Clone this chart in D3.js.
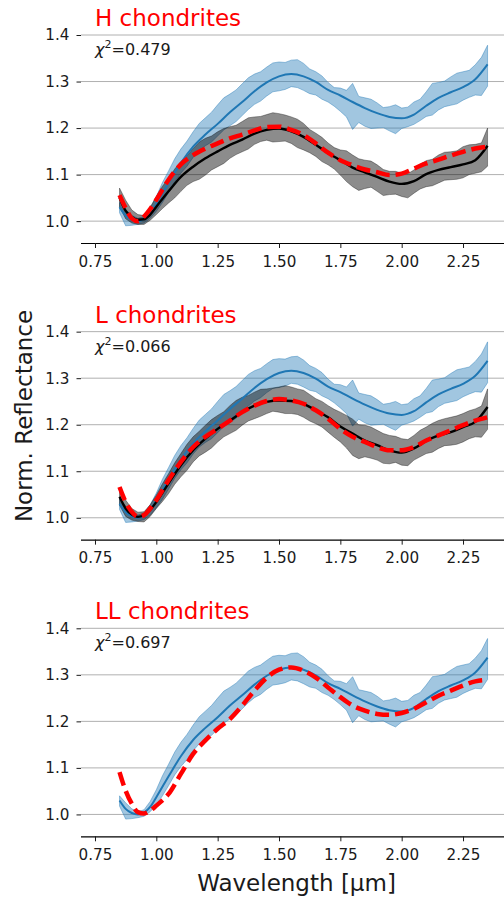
<!DOCTYPE html>
<html>
<head>
<meta charset="utf-8">
<script src="https://cdn.jsdelivr.net/npm/d3@7"></script>
<style>
  body { margin: 0; background: #fff; }
  svg { display: block; font-family: "DejaVu Sans", sans-serif; }
</style>
</head>
<body>
<svg id="chart" width="504" height="902"></svg>
<script>
// wavelength grid for the mean curves (µm)
const wavelength = [0.85, 0.875, 0.9, 0.925, 0.95, 0.975, 1.0, 1.05, 1.1, 1.15, 1.2, 1.25, 1.3, 1.35,
  1.4, 1.45, 1.5, 1.55, 1.6, 1.65, 1.7, 1.75, 1.8, 1.85, 1.9, 1.95, 2.0, 2.05, 2.1, 2.15, 2.2, 2.25, 2.3, 2.35];

// finer grid for the 1-sigma envelopes
const bandWl = [0.85, 0.875, 0.9, 0.925, 0.95, 0.975, 1.0,
  1.025, 1.05, 1.075, 1.1, 1.125, 1.15, 1.175, 1.2, 1.225, 1.25, 1.275, 1.3, 1.325, 1.35, 1.375, 1.4, 1.425, 1.45, 1.475, 1.5,
  1.525, 1.55, 1.575, 1.6, 1.625, 1.65, 1.675, 1.7, 1.725, 1.75, 1.775, 1.8, 1.825, 1.85, 1.875, 1.9, 1.925, 1.95, 1.975, 2.0,
  2.025, 2.05, 2.075, 2.1, 2.125, 2.15, 2.175, 2.2, 2.225, 2.25, 2.275, 2.3, 2.325, 2.35];

// asteroid spectrum
const astMean = [1.030, 1.012, 1.003, 1.000, 1.004, 1.016, 1.037, 1.082, 1.125, 1.160, 1.186, 1.209, 1.234, 1.256,
  1.279, 1.298, 1.311, 1.316, 1.311, 1.299, 1.282, 1.270, 1.256, 1.243, 1.232, 1.224, 1.221, 1.229, 1.248, 1.265, 1.277, 1.288, 1.305, 1.337];
const astHigh = [1.040, 1.025, 1.012, 1.006, 1.010, 1.028, 1.053,
  1.083, 1.108, 1.134, 1.155, 1.172, 1.192, 1.210, 1.222, 1.234, 1.250, 1.265, 1.273, 1.282, 1.295, 1.308, 1.316, 1.321, 1.331, 1.340, 1.342,
  1.341, 1.346, 1.347, 1.339, 1.327, 1.321, 1.312, 1.298, 1.287, 1.286, 1.281, 1.296, 1.268, 1.265, 1.262, 1.254, 1.244, 1.246, 1.250, 1.243,
  1.245, 1.256, 1.262, 1.278, 1.296, 1.298, 1.301, 1.310, 1.318, 1.321, 1.324, 1.336, 1.352, 1.378];
const astLow = [1.018, 0.990, 0.991, 0.993, 0.996, 1.006, 1.021,
  1.040, 1.062, 1.085, 1.103, 1.118, 1.137, 1.152, 1.162, 1.170, 1.183, 1.196, 1.205, 1.214, 1.227, 1.240, 1.251, 1.258, 1.269, 1.278, 1.280,
  1.283, 1.289, 1.287, 1.281, 1.274, 1.271, 1.262, 1.256, 1.247, 1.236, 1.224, 1.197, 1.212, 1.204, 1.199, 1.200, 1.201, 1.194, 1.188, 1.199,
  1.203, 1.208, 1.216, 1.225, 1.228, 1.239, 1.246, 1.249, 1.252, 1.260, 1.266, 1.271, 1.270, 1.290];

// H chondrites
const hMean = [1.050, 1.022, 1.009, 1.003, 1.004, 1.014, 1.031, 1.064, 1.095, 1.117, 1.135, 1.150, 1.164, 1.175,
  1.188, 1.196, 1.199, 1.193, 1.181, 1.164, 1.146, 1.131, 1.115, 1.105, 1.095, 1.085, 1.080, 1.086, 1.101, 1.110, 1.116, 1.122, 1.131, 1.162];
const hHigh = [1.071, 1.045, 1.024, 1.014, 1.012, 1.030, 1.053,
  1.075, 1.092, 1.112, 1.128, 1.140, 1.156, 1.170, 1.178, 1.183, 1.192, 1.199, 1.203, 1.206, 1.214, 1.222, 1.224, 1.225, 1.229, 1.233, 1.231,
  1.228, 1.224, 1.219, 1.210, 1.197, 1.189, 1.180, 1.168, 1.158, 1.153, 1.151, 1.142, 1.134, 1.131, 1.129, 1.121, 1.111, 1.107, 1.107, 1.103,
  1.102, 1.110, 1.122, 1.130, 1.133, 1.142, 1.148, 1.149, 1.151, 1.160, 1.164, 1.165, 1.168, 1.200];
const hLow = [1.031, 1.005, 0.996, 0.993, 0.993, 1.002, 1.014,
  1.027, 1.039, 1.050, 1.064, 1.077, 1.085, 1.090, 1.099, 1.110, 1.117, 1.124, 1.135, 1.143, 1.149, 1.155, 1.165, 1.171, 1.174, 1.170, 1.171,
  1.172, 1.167, 1.158, 1.153, 1.147, 1.139, 1.128, 1.121, 1.112, 1.099, 1.085, 1.074, 1.066, 1.070, 1.073, 1.064, 1.055, 1.057, 1.058, 1.053,
  1.050, 1.060, 1.069, 1.074, 1.076, 1.082, 1.088, 1.089, 1.090, 1.093, 1.100, 1.103, 1.106, 1.118];
const hFit = [1.056, 1.028, 1.006, 1.000, 1.010, 1.026, 1.046, 1.089, 1.122, 1.142, 1.156, 1.167, 1.178, 1.186,
  1.195, 1.202, 1.203, 1.196, 1.185, 1.167, 1.147, 1.131, 1.120, 1.111, 1.105, 1.099, 1.102, 1.113, 1.124, 1.132, 1.141, 1.149, 1.156, 1.160];

// L chondrites
const lMean = [1.045, 1.020, 1.007, 1.002, 1.006, 1.017, 1.034, 1.074, 1.113, 1.145, 1.170, 1.191, 1.209, 1.227,
  1.241, 1.249, 1.252, 1.251, 1.245, 1.231, 1.216, 1.196, 1.181, 1.166, 1.156, 1.145, 1.140, 1.149, 1.165, 1.177, 1.184, 1.195, 1.206, 1.238];
const lHigh = [1.063, 1.038, 1.020, 1.012, 1.013, 1.028, 1.049,
  1.073, 1.095, 1.118, 1.138, 1.158, 1.174, 1.186, 1.199, 1.211, 1.220, 1.228, 1.241, 1.252, 1.259, 1.263, 1.270, 1.276, 1.277, 1.279, 1.281,
  1.284, 1.281, 1.277, 1.274, 1.265, 1.256, 1.250, 1.241, 1.233, 1.227, 1.220, 1.212, 1.200, 1.199, 1.195, 1.188, 1.181, 1.177, 1.175, 1.170,
  1.168, 1.177, 1.188, 1.195, 1.203, 1.209, 1.213, 1.216, 1.219, 1.224, 1.230, 1.234, 1.240, 1.277];
const lLow = [1.027, 1.003, 0.995, 0.992, 0.991, 1.003, 1.020,
  1.035, 1.052, 1.072, 1.088, 1.102, 1.120, 1.133, 1.141, 1.150, 1.163, 1.174, 1.181, 1.188, 1.199, 1.208, 1.213, 1.218, 1.224, 1.229, 1.227,
  1.224, 1.224, 1.222, 1.216, 1.208, 1.202, 1.195, 1.184, 1.173, 1.163, 1.150, 1.134, 1.127, 1.131, 1.128, 1.124, 1.117, 1.116, 1.119, 1.113,
  1.112, 1.124, 1.131, 1.138, 1.141, 1.149, 1.155, 1.156, 1.158, 1.163, 1.170, 1.174, 1.173, 1.190];
const lFit = [1.066, 1.034, 1.013, 1.002, 1.006, 1.020, 1.038, 1.081, 1.120, 1.152, 1.174, 1.191, 1.209, 1.227,
  1.241, 1.251, 1.255, 1.252, 1.245, 1.231, 1.213, 1.191, 1.174, 1.163, 1.152, 1.145, 1.145, 1.152, 1.166, 1.177, 1.188, 1.199, 1.209, 1.216];

// LL chondrites (fit only)
const llFit = [1.091, 1.051, 1.023, 1.005, 1.002, 1.008, 1.019, 1.044, 1.087, 1.130, 1.159, 1.184, 1.205, 1.234,
  1.266, 1.294, 1.311, 1.316, 1.309, 1.294, 1.273, 1.252, 1.234, 1.223, 1.216, 1.214, 1.218, 1.227, 1.241, 1.255, 1.266, 1.277, 1.286, 1.289];

const titles = ['H chondrites', 'L chondrites', 'LL chondrites'];
const chi2 = ['0.479', '0.066', '0.697'];
const xTicks = [0.75, 1.0, 1.25, 1.5, 1.75, 2.0, 2.25];
const yTicks = [1.0, 1.1, 1.2, 1.3, 1.4];

const panels = [
  { title: titles[0], chi: chi2[0], mean: hMean, high: hHigh, low: hLow, fit: hFit },
  { title: titles[1], chi: chi2[1], mean: lMean, high: lHigh, low: lLow, fit: lFit },
  { title: titles[2], chi: chi2[2], mean: null, high: null, low: null, fit: llFit }
];

const svg = d3.select('#chart');
const left = 81, right = 504;
const panelTop = 35, panelStep = 296.65, plotH = 208;

const x = d3.scaleLinear().domain([0.693, 2.417]).range([left, right]);

const pts = arr => wavelength.map((w, i) => [w, arr[i]]);
const band = (lo, hi) => bandWl.map((w, i) => [w, lo[i], hi[i]]);

panels.forEach((p, k) => {
  const top = panelTop + k * panelStep;
  const y = d3.scaleLinear().domain([0.953, 1.4]).range([top + plotH, top]);
  const g = svg.append('g');

  // horizontal grid
  g.selectAll('line.grid')
    .data(yTicks)
    .enter()
    .append('line')
    .attr('x1', left).attr('x2', right)
    .attr('y1', d => y(d)).attr('y2', d => y(d))
    .attr('stroke', '#b0b0b0')
    .attr('stroke-width', 1);

  // y ticks + labels (no spine)
  const yAxis = g.append('g')
    .attr('transform', `translate(${left},0)`)
    .call(d3.axisLeft(y).tickValues(yTicks).tickFormat(d3.format('.1f')).tickSize(4.5).tickPadding(7));
  yAxis.select('.domain').remove();

  // x axis
  const xAxis = g.append('g')
    .attr('transform', `translate(0,${y(0.953)})`)
    .call(d3.axisBottom(x).tickValues(xTicks).tickFormat(d3.format('.2f')).tickSize(5).tickPadding(8));
  xAxis.select('.domain').attr('d', `M${left},0.5H${right}`).attr('stroke-width', 1.2);

  [yAxis, xAxis].forEach(a => {
    a.selectAll('text').attr('font-size', 15.2).attr('fill', '#1a1a1a').attr('font-family', 'DejaVu Sans');
    a.selectAll('.tick line').attr('stroke', '#1a1a1a');
  });

  const area = d3.area()
    .x(d => x(d[0])).y0(d => y(d[1])).y1(d => y(d[2]))
    .curve(d3.curveLinear);
  const line = d3.line()
    .x(d => x(d[0])).y(d => y(d[1]))
    .curve(d3.curveMonotoneX);

  // asteroid envelope
  g.append('path')
    .datum(band(astLow, astHigh))
    .attr('d', area)
    .attr('fill', '#1f77b4').attr('fill-opacity', 0.42)
    .attr('stroke', '#1f77b4').attr('stroke-opacity', 0.42).attr('stroke-width', 1);

  // meteorite envelope
  if (p.mean) {
    g.append('path')
      .datum(band(p.low, p.high))
      .attr('d', area)
      .attr('fill', '#000').attr('fill-opacity', 0.45)
      .attr('stroke', '#000').attr('stroke-opacity', 0.35).attr('stroke-width', 1);
  }

  g.append('path')
    .datum(pts(astMean))
    .attr('d', line)
    .attr('fill', 'none').attr('stroke', '#1f77b4').attr('stroke-width', 2);

  if (p.mean) {
    g.append('path')
      .datum(pts(p.mean))
      .attr('d', line)
      .attr('fill', 'none').attr('stroke', '#000').attr('stroke-width', 2.4);
  }

  g.append('path')
    .datum(pts(p.fit))
    .attr('d', line)
    .attr('fill', 'none').attr('stroke', '#ff0000').attr('stroke-width', 4.5)
    .attr('stroke-dasharray', '14,6');

  // labels
  g.append('text')
    .attr('x', 95).attr('y', top - 9)
    .attr('font-size', 23).attr('fill', '#ff0000')
    .text(p.title);

  const chiText = g.append('text')
    .attr('x', 95).attr('y', top + 20)
    .attr('font-size', 16).attr('fill', '#1a1a1a');
  chiText.append('tspan').attr('font-style', 'italic').text('χ');
  chiText.append('tspan').attr('font-size', 11).attr('dy', -7).text('2');
  chiText.append('tspan').attr('dy', 7).text('=' + p.chi);
});

svg.append('text')
  .attr('transform', 'translate(32,416) rotate(-90)')
  .attr('text-anchor', 'middle')
  .attr('font-size', 23).attr('fill', '#1a1a1a')
  .text('Norm. Reflectance');

svg.append('text')
  .attr('x', 296.5).attr('y', 891)
  .attr('text-anchor', 'middle')
  .attr('font-size', 23).attr('fill', '#1a1a1a')
  .text('Wavelength [µm]');
</script>
</body>
</html>
